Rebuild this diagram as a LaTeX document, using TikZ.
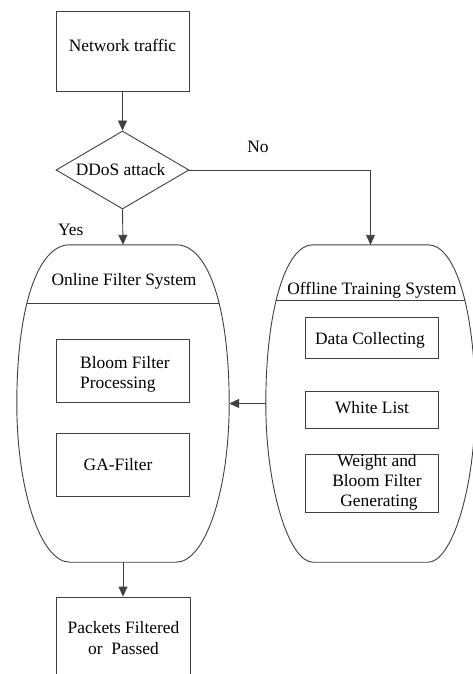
\documentclass[tikz,border=0pt]{standalone}
\usepackage{fontspec}
\setmainfont{Liberation Serif}
\usetikzlibrary{arrows.meta,shapes.geometric,calc}
\newcommand\ovalshape[3]{%
 \draw[ln] ($(#1.north west)+(#3,0)$) -- ($(#1.north east)+(-#3,0)$)
  .. controls ($(#1.north east)+(-20,0)$) and ($(#1.north east)+(0,65)$) .. (#1.east)
  .. controls ($(#1.east)+(0,87)$) and ($(#1.south east)+(-24,0)$) .. ($(#1.south east)+(-#3,0)$)
  -- ($(#1.south west)+(#3,0)$)
  .. controls ($(#1.south west)+(24,0)$) and ($(#1.west)+(0,87)$) .. (#1.west)
  .. controls ($(#1.north west)+(0,65)$) and ($(#1.north west)+(20,0)$) .. cycle;
 \begin{scope}
 \clip ($(#1.north west)+(#3,0)$) -- ($(#1.north east)+(-#3,0)$)
  .. controls ($(#1.north east)+(-20,0)$) and ($(#1.north east)+(0,65)$) .. (#1.east)
  .. controls ($(#1.east)+(0,87)$) and ($(#1.south east)+(-24,0)$) .. ($(#1.south east)+(-#3,0)$)
  -- ($(#1.south west)+(#3,0)$)
  .. controls ($(#1.south west)+(24,0)$) and ($(#1.west)+(0,87)$) .. (#1.west)
  .. controls ($(#1.north west)+(0,65)$) and ($(#1.north west)+(20,0)$) .. cycle;
 \draw[ln] ($(#1.north west)+(0,#2)$) -- ($(#1.north east)+(0,#2)$);
 \end{scope}}
\begin{document}
\begin{tikzpicture}[x=1pt,y=-1pt,
 font=\fontsize{17.4}{20.2}\selectfont,
 ln/.style={draw=black!75,line width=0.9pt},
 box/.style={ln,rectangle,inner sep=0pt,minimum width=133pt},
 txt/.style={inner sep=0pt,align=center,text=black,anchor=base},
 arr/.style={ln,-{Triangle[length=10pt,width=9pt]}},
 region/.style={inner sep=0pt,minimum height=317pt}]
\clip (0,0) rectangle (473,674);
\fill[white] (0,0) rectangle (473,674);

% top box and decision
\node[box,minimum height=80pt] (net) at (122.5,51) {};
\node[txt] (nettext) at (122.5,52) {Network traffic};
\node[ln,diamond,aspect=1.7,inner sep=0pt,minimum width=133pt,minimum height=78pt] (dd) at (122.5,170) {};
\node[txt] (ddtext) at (120.5,175.7) {DDoS attack};
\node[txt] (no) at (258,152.7) {No};
\node[txt] (yes) at (70.7,235) {Yes};

% regions
\node[region,minimum width=212pt] (on) at (123,403.5) {};
\node[region,minimum width=209pt] (off) at (370.5,403.5) {};
\ovalshape{on}{59}{53}
\ovalshape{off}{56}{47}
\node[txt] (ontitle) at (124,285.7) {Online Filter System};
\node[txt] (offtitle) at (372,294.5) {Offline Training System};

% online filter contents
\node[box,minimum height=63pt] (bloom) at (122.5,370.5) {};
\node[txt,align=left,anchor=base west] (bloomtext) at (80,388.3) {Bloom Filter\\Processing};
\node[box,minimum height=63pt] (ga) at (122.5,464.5) {};
\node[txt] (gatext) at (118,470.7) {GA-Filter};

% offline training contents
\node[box,minimum height=41pt] (data) at (371.5,337.5) {};
\node[txt] (datatext) at (370,344) {Data Collecting};
\node[box,minimum height=37pt] (white) at (371.5,409.5) {};
\node[txt] (whitetext) at (372,413.3) {White List};
\node[box,minimum height=58pt] (weight) at (372,483) {};
\node[txt] (weighttext) at (377,506.7) {Weight and\\Bloom Filter\\\hspace*{4pt}Generating};

% output
\node[box,minimum width=134pt,minimum height=86pt] (pk) at (123,640) {};
\node[txt] (pktext) at (123.5,654) {Packets Filtered\\or\ \ Passed};

% connectors
\draw[arr] (net.south) -- (dd.north);
\draw[arr] (dd.south) -- (on.north);
\draw[arr] (dd.east) -| (off.north);
\draw[arr] (off.west) -- (on.east);
\draw[arr] (on.south) -- (pk.north);
\end{tikzpicture}
\end{document}
